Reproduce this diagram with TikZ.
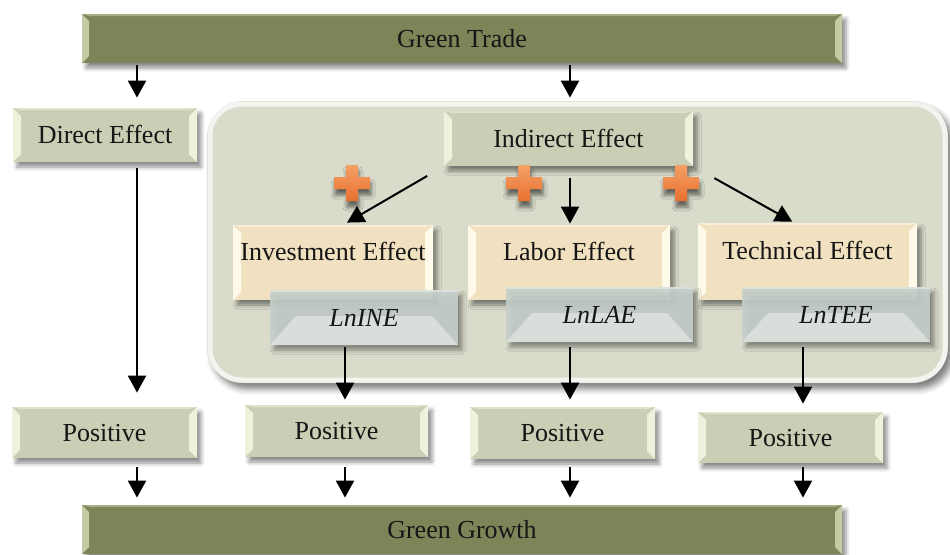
\documentclass[tikz,border=0pt]{standalone}
\usepackage{fontspec}
\setmainfont{Liberation Serif}
\usetikzlibrary{arrows.meta,calc,shadows.blur}

\definecolor{barolive}{HTML}{7E8358}
\definecolor{barlight}{HTML}{C6CAA2}
\definecolor{sage}{HTML}{CACEB4}
\definecolor{sagelight}{HTML}{EFF1DC}
\definecolor{tanfill}{HTML}{F2E1C1}
\definecolor{tanlight}{HTML}{FFF9EA}
\definecolor{lnface}{HTML}{C6D0CC}
\definecolor{lnlight}{HTML}{DCE1DE}
\definecolor{panel}{HTML}{D9DCCB}
\definecolor{plusorange}{HTML}{E8702F}
\definecolor{pluslight}{HTML}{F5A066}
\definecolor{ink}{HTML}{161616}

\tikzset{
  softshadow/.style={blur shadow={shadow xshift=2pt, shadow yshift=-2.5pt,
      shadow blur radius=2pt, shadow opacity=45}},
  bevel/.style 2 args={path picture={
      \fill[#1] (path picture bounding box.north west) -- ++(#2,-#2)
        -- ([shift={(#2,#2)}]path picture bounding box.south west)
        -- (path picture bounding box.south west) -- cycle;
      \fill[#1] (path picture bounding box.north east) -- ++(-#2,-#2)
        -- ([shift={(-#2,#2)}]path picture bounding box.south east)
        -- (path picture bounding box.south east) -- cycle;
      \fill[#1, opacity=.6] (path picture bounding box.north west)
        -- ([shift={(#2,-1pt)}]path picture bounding box.north west)
        -- ([shift={(-#2,-1pt)}]path picture bounding box.north east)
        -- (path picture bounding box.north east) -- cycle;
  }},
  box/.style={inner sep=0pt, text=ink, font=\fontsize{13}{15}\selectfont,
      text height=8.6pt, text depth=0pt, softshadow},
  bar/.style={box, fill=barolive, bevel={barlight}{3.5pt},
      minimum width=380pt, minimum height=24.5pt},
  sagebox/.style={box, fill=sage, bevel={sagelight}{4pt}},
  tanbox/.style={box, fill=tanfill, bevel={tanlight}{4pt},
      text depth=10.9pt},
  lnbox/.style={box, fill=lnface, fill opacity=.9, text opacity=1,
      font=\fontsize{13}{15}\selectfont\itshape,
      minimum width=94pt, minimum height=27.5pt,
      path picture={
        \fill[lnlight] ([shift={(13pt,-13pt)}]path picture bounding box.north west)
          -- ([shift={(-13pt,-13pt)}]path picture bounding box.north east)
          -- (path picture bounding box.south east)
          -- (path picture bounding box.south west) -- cycle;
        \fill[white, opacity=.35] (path picture bounding box.north west)
          -- ([shift={(0pt,-1.2pt)}]path picture bounding box.north west)
          -- ([shift={(0pt,-1.2pt)}]path picture bounding box.north east)
          -- (path picture bounding box.north east) -- cycle;
      }},
  arr/.style={line width=1pt, draw=black, -{Triangle[width=9pt,length=8.5pt]}},
  plussign/.pic={
    \path[top color=pluslight, bottom color=plusorange,
          blur shadow={shadow xshift=0.5pt, shadow yshift=-3pt,
                       shadow blur radius=2pt, shadow opacity=55}]
      (-3pt,9pt) -- (3pt,9pt) -- (3pt,3pt) -- (9pt,3pt) -- (9pt,-3pt)
      -- (3pt,-3pt) -- (3pt,-9pt) -- (-3pt,-9pt) -- (-3pt,-3pt)
      -- (-9pt,-3pt) -- (-9pt,3pt) -- (-3pt,3pt) -- cycle;
  }
}

\begin{document}
\begin{tikzpicture}[x=0.5pt,y=-0.5pt]
\useasboundingbox (0,0) rectangle (950,554);

% columns used by the vertical connectors
\coordinate (c1) at (137,0);
\coordinate (c2) at (345,0);
\coordinate (c3) at (570,0);
\coordinate (c4) at (803,0);

% rounded panel grouping the indirect channels
\fill[panel, rounded corners=18pt,
      blur shadow={shadow xshift=2.5pt, shadow yshift=-3pt,
                   shadow blur radius=3pt, shadow opacity=50}]
  (207,101) rectangle (948,383);
\draw[white, opacity=.7, line width=2.5pt, rounded corners=16pt]
  (210,104) rectangle (945,380);

% top and bottom bars
\node[bar] (trade) at (462,38.5) {Green Trade};
\node[bar] (growth) at (462,529.5) {Green Growth};

% direct and indirect effect
\node[sagebox, minimum width=92pt, minimum height=27pt] (direct) at (105,135) {Direct Effect};
\node[sagebox, minimum width=124.5pt, minimum height=27.5pt] (indirect) at (568.5,138.5) {Indirect Effect};

% the three channels
\node[tanbox, minimum width=100pt, minimum height=37.5pt] (invest) at (333,262.5) {Investment Effect};
\node[tanbox, minimum width=101pt, minimum height=37.5pt] (labor) at (569,262.5) {Labor Effect};
\node[tanbox, minimum width=109.5pt, minimum height=38.5pt] (tech) at (807.5,261.5) {Technical Effect};

% variables
\node[lnbox] (lnine) at (364,317.5) {LnINE};
\node[lnbox, minimum width=93.5pt] (lnlae) at (599.5,314.5) {LnLAE};
\node[lnbox] (lntee) at (836,314.5) {LnTEE};

% signs of the effects
\node[sagebox, minimum width=92.5pt, minimum height=25.5pt] (pos1) at (104.5,432.5) {Positive};
\node[sagebox, minimum width=91.5pt, minimum height=26pt] (pos2) at (336.5,431) {Positive};
\node[sagebox, minimum width=92.5pt, minimum height=26pt] (pos3) at (562.5,433) {Positive};
\node[sagebox, minimum width=92.5pt, minimum height=25.5pt] (pos4) at (790.5,437.5) {Positive};

% plus markers
\pic at (352,183) {plussign};
\pic at (524,183) {plussign};
\pic at (681,183) {plussign};

% connectors
\draw[arr, shorten <=1pt, shorten >=5pt] (trade.south -| c1) -- (direct.north -| c1);
\draw[arr, shorten <=1pt, shorten >=6.5pt] (trade.south -| c3) -- (indirect.north -| c3);
\draw[arr, shorten <=3pt, shorten >=7pt] (direct.south -| c1) -- (pos1.north -| c1);

\draw[arr, shorten <=9.5pt, shorten >=2pt] (indirect.south west) -- ([xshift=5.25pt]invest.north);
\draw[arr, shorten <=6pt, shorten >=0.5pt] (indirect.south -| c3) -- (labor.north -| c3);
\draw[arr, shorten <=12pt, shorten >=1pt] (indirect.south east) -- ([xshift=-6.75pt]tech.north);

\draw[arr, shorten <=1pt, shorten >=2.5pt] (lnine.south -| c2) -- (pos2.north -| c2);
\draw[arr, shorten <=2.5pt, shorten >=3.5pt] (lnlae.south -| c3) -- (pos3.north -| c3);
\draw[arr, shorten <=2.5pt, shorten >=4pt] (lntee.south -| c4) -- (pos4.north -| c4);

\draw[arr, shorten <=4.5pt, shorten >=3.5pt] (pos1.south -| c1) -- (growth.north -| c1);
\draw[arr, shorten <=5pt, shorten >=3.5pt] (pos2.south -| c2) -- (growth.north -| c2);
\draw[arr, shorten <=4pt, shorten >=3.5pt] (pos3.south -| c3) -- (growth.north -| c3);
\draw[arr, shorten <=2pt, shorten >=3.5pt] (pos4.south -| c4) -- (growth.north -| c4);
\end{tikzpicture}
\end{document}
